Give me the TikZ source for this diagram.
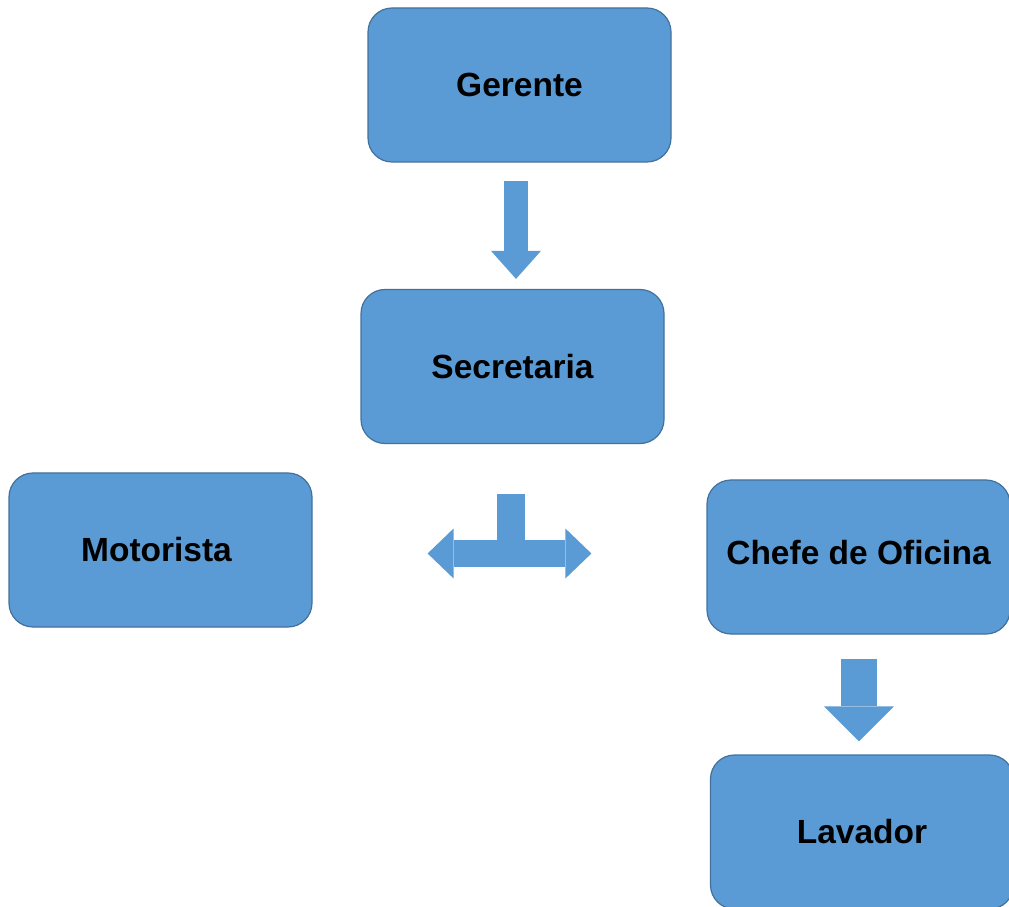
\documentclass[tikz,border=0pt]{standalone}
\usepackage{fontspec}
\setmainfont{Liberation Sans}
\usepackage{xcolor}
\usetikzlibrary{arrows.meta,calc}
\definecolor{boxblue}{HTML}{5B9BD5}
\definecolor{boxline}{HTML}{41719C}

\begin{document}
\begin{tikzpicture}[
  x=1pt, y=1pt,
  font=\fontsize{33.5}{38}\selectfont\bfseries,
  role/.style={draw=boxline, line width=1.2pt, fill=boxblue, rounded corners=24pt, minimum width=303pt, minimum height=154pt, inner sep=0pt},
  blockarrow/.style={draw=boxblue, line width=24pt},
  bighead/.style={-{Triangle[length=28pt, width=50pt, line width=0pt]}}
]
\useasboundingbox (0,0) rectangle (1009,906);
\node[role] (gerente) at (519.5,821) {Gerente};
\node[role] (secretaria) at (512.5,539.5) {Secretaria};
\node[role] (motorista) at (160.5,356) {\hspace*{-8pt}Motorista};
\node[role] (chefe) at (858.5,349) {\raisebox{10pt}{Chefe de Oficina}};
\node[role] (lavador) at (862,74) {Lavador};
% setas de bloco
\draw[blockarrow, bighead] ($(gerente.south)+(-3.5,-18)$) -- ($(secretaria.north)+(3.5,10)$);
\draw[blockarrow, line width=28pt] ($(secretaria.south)+(-1.5,-50)$) -- ++(0,-60.5);
\draw[blockarrow, line width=27pt, {Triangle[length=26pt, width=50pt, line width=0pt]}-{Triangle[length=26pt, width=50pt, line width=0pt]}]
  ($(motorista.east)+(115,-3.5)$) -- ($(chefe.west)+(-115,3.5)$);
\draw[blockarrow, line width=36pt, -{Triangle[length=35pt, width=70pt, line width=0pt]}] ($(chefe.south)+(0.5,-24)$) -- ($(lavador.north)+(-3,13)$);
\end{tikzpicture}
\end{document}
